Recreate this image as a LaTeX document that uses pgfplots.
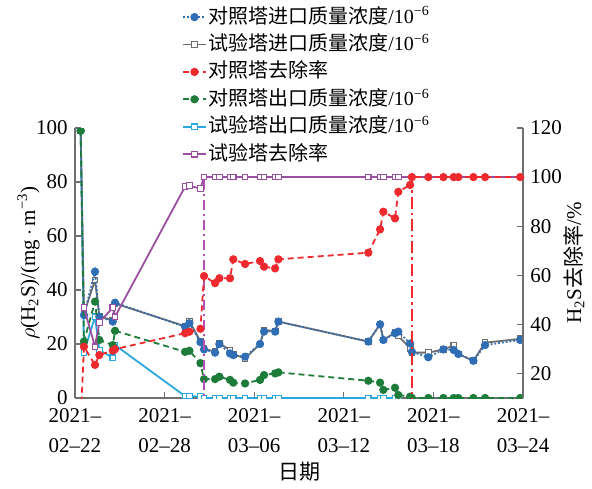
\documentclass[border=0pt]{standalone}
\usepackage{pgfplots}
\usepackage{pgfplotstable}
\pgfplotsset{compat=1.18}
\usepackage{fontspec}
\setmainfont{Liberation Serif}
\newfontfamily\cjk{Noto Sans CJK SC}
\definecolor{cblue}{HTML}{2F6DB5}
\definecolor{cgray}{HTML}{6E6E6E}
\definecolor{cred}{HTML}{EE2A2F}
\definecolor{cgreen}{HTML}{1E7C3A}
\definecolor{ccyan}{HTML}{2AA8E0}
\definecolor{cpurple}{HTML}{9A4FA0}
\definecolor{cmag}{HTML}{B450B8}
\definecolor{axgray}{HTML}{707070}
\pgfplotstableread{
day cin tin crem cout tout trem
0.38 99 99 0 99 99 nan
0.60 30.7 31.2 30.9 20.9 16.9 46.8
1.34 46.8 43.7 23.5 35.7 30.1 30.9
1.63 30.1 30.4 27.5 21.5 17.8 40.8
2.53 28.3 28.6 29.3 19.6 14.9 46.8
2.68 35.3 35.0 29.9 24.9 19.6 43.1
7.37 26.4 26.6 36.4 17.1 0.7 96.1
7.66 27.7 28.5 37.0 17.5 0.7 96.5
8.40 20.7 21.0 38.2 12.9 0.5 95.3
8.64 18.0 18.2 59.7 7.0 0 100
9.38 16.8 17.2 56.8 7.0 0 100
9.67 20.0 20.2 58.8 7.9 0 100
10.38 16.5 17.8 58.8 6.7 0 100
10.60 15.9 16.2 66.5 5.7 0 100
11.39 15.3 14.7 64.6 5.4 0 100
12.39 20.0 20.0 65.8 6.7 0 100
12.66 24.6 25.2 63.5 8.5 0 100
13.40 24.6 24.8 62.8 9.1 0 100
13.62 28.3 28.3 66.5 9.5 0 100
19.64 20.9 20.9 69.2 6.4 0 100
20.43 27.3 27.3 78.7 5.7 0 100
20.65 21.5 21.5 85.9 3.0 0 100
21.43 24.0 24.2 83.2 3.8 0 100
21.65 24.6 23.0 94.0 1.1 0 100
22.44 20.2 18.4 96.8 0.5 nan nan
22.56 17.1 16.8 100 0 nan nan
23.66 15.1 16.8 100 0 nan nan
24.67 18.0 18.0 100 0 nan nan
25.36 17.8 19.4 100 0 nan nan
25.67 16.3 16.3 100 0 nan nan
26.68 13.8 13.8 100 0 nan nan
27.46 19.6 20.5 100 0 nan nan
29.81 21.5 21.9 100 0 nan nan
}\datatable
\pgfplotstableread{
day trem
21.65 100
29.81 100
}\purpletail
\begin{document}
\fontsize{10.5}{12.6}\selectfont
\begin{tikzpicture}
\pgfplotsset{
  common/.style={
    width=224pt, height=135pt, scale only axis,
    xmin=0, xmax=30,
    tick align=inside,
    major tick length=3pt,
    axis line style={draw=axgray, line width=0.6pt},
    every tick/.style={draw=axgray, line width=0.6pt},
    /pgf/number format/assume math mode=true,
    ticklabel style={font=\fontsize{10.5}{12.6}\selectfont},
    label style={font=\fontsize{10.5}{12.6}\selectfont},
    unbounded coords=jump,
  },
  sq/.style={mark=square*, mark size=1.4pt, mark options={solid, fill=white, draw=#1, line width=0.6pt}},
  ci/.style={mark=*, mark size=1.6pt, mark options={solid}},
}
\begin{axis}[common,
  name=ax1,
  clip marker paths=true,
  ymin=0, ymax=100,
  ytick={0,20,...,100},
  axis x line*=bottom, axis y line*=left,
  xtick={0,6,12,18,24,30},
  xticklabels={2021–\\02–22,2021–\\02–28,2021–\\03–06,2021–\\03–12,2021–\\03–18,2021–\\03–24},
  xticklabel style={align=center, font=\fontsize{10.5}{15}\selectfont, yshift=-1.5pt},
  xlabel={\cjk 日期},
  xlabel style={yshift=2.5pt},
  ylabel={$\rho$(H\textsubscript{2}S)/(mg$\,\cdot\,$m\textsuperscript{−3})},
  ylabel style={yshift=-9pt},
]
\addplot[ccyan, line width=0.9pt, sq=ccyan] table[x=day, y=tout] {\datatable};
\addplot[cgray, line width=0.9pt, sq=cgray] table[x=day, y=tin] {\datatable};
\addplot[cblue, line width=0.9pt, densely dotted, ci] table[x=day, y=cin] {\datatable};
\addplot[cgreen, line width=0.9pt, densely dashed, ci] table[x=day, y=cout] {\datatable};
\end{axis}
\begin{axis}[common,
  name=ax2,
  ymin=10, ymax=120,
  ytick={20,40,...,120},
  axis x line=none, axis y line*=right,
  ylabel near ticks, yticklabel pos=right,
  ylabel={H\textsubscript{2}S{\cjk 去除率}/\%},
  ylabel style={yshift=6.5pt},
  legend cell align=left,
  legend style={at={(0.225,1.47)}, anchor=north west, draw=none, fill=none,
    font=\fontsize{10}{12}\selectfont, row sep=2.1pt,
    nodes={inner sep=0.8pt, text height=8pt, text depth=2pt}},
  legend image code/.code={\draw[mark repeat=2, mark phase=2] plot coordinates {(0cm,0cm) (0.2cm,0cm) (0.4cm,0cm)};},
]
\addlegendimage{cblue, line width=0.9pt, densely dotted, ci}
\addlegendentry{{\cjk 对照塔进口质量浓度}/10\textsuperscript{−6}}
\addlegendimage{cgray, line width=0.9pt, sq=cgray}
\addlegendentry{{\cjk 试验塔进口质量浓度}/10\textsuperscript{−6}}
\addplot[forget plot, cpurple, line width=0.9pt] table[x=day, y=trem] {\purpletail};
\addplot[forget plot, cmag, line width=1pt, dash pattern=on 5pt off 2pt on 1pt off 2pt] coordinates {(8.64,5) (8.64,100)};
\addplot[forget plot, cred, line width=1.3pt, dash pattern=on 6pt off 2pt on 1.2pt off 2pt] coordinates {(22.56,5) (22.56,100)};
\addplot[cred, line width=0.9pt, densely dashed, ci] table[x=day, y=crem] {\datatable};
\addlegendentry{{\cjk 对照塔去除率}}
\addlegendimage{cgreen, line width=0.9pt, densely dashed, ci}
\addlegendentry{{\cjk 对照塔出口质量浓度}/10\textsuperscript{−6}}
\addlegendimage{ccyan, line width=0.9pt, sq=ccyan}
\addlegendentry{{\cjk 试验塔出口质量浓度}/10\textsuperscript{−6}}
\addplot[cpurple, line width=0.9pt, sq=cpurple] table[x=day, y=trem] {\datatable};
\addlegendentry{{\cjk 试验塔去除率}}
\end{axis}
\path[use as bounding box] ([shift={(-37.5pt,-44.5pt)}]ax2.south west) rectangle ([shift={(34.5pt,64pt)}]ax2.north east);
\end{tikzpicture}
\end{document}
